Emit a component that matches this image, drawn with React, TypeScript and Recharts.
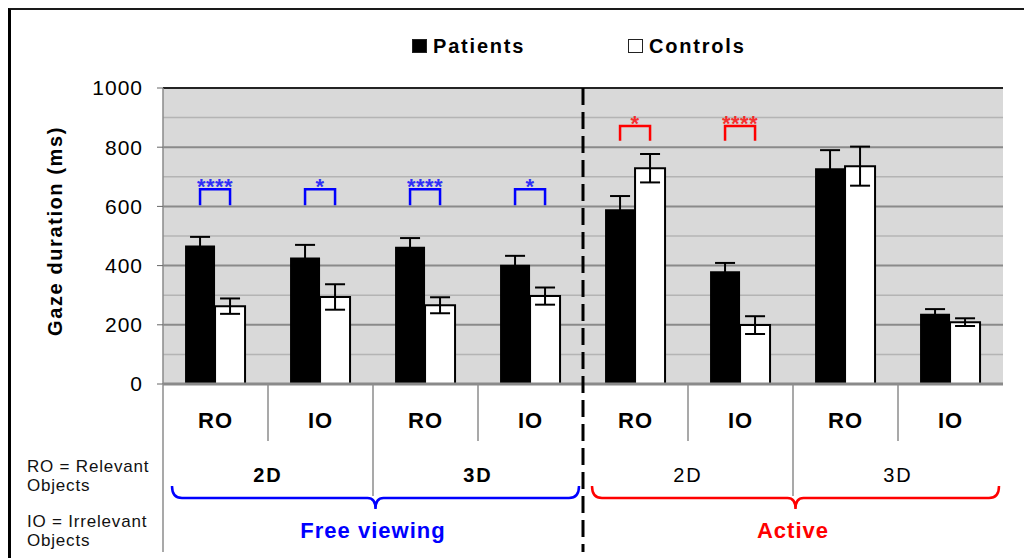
import React from "react";
import {
  BarChart,
  Bar,
  XAxis,
  YAxis,
  CartesianGrid,
  ErrorBar,
  LabelList,
  Legend,
  ReferenceLine,
} from "recharts";

// values (ms)
const objects = ["RO", "IO", "RO", "IO", "RO", "IO", "RO", "IO"];
const dims = ["2D", "2D", "3D", "3D", "2D", "2D", "3D", "3D"];
const conditions = [
  "Free viewing",
  "Free viewing",
  "Free viewing",
  "Free viewing",
  "Active",
  "Active",
  "Active",
  "Active",
];
const seriesNames = ["Patients", "Controls"];
const patients = [468, 427, 464, 403, 590, 381, 729, 237];
const patientsErr = [29, 43, 29, 30, 45, 28, 61, 16];
const controls = [263, 294, 266, 297, 729, 199, 736, 209];
const controlsErr = [26, 43, 27, 29, 48, 30, 66, 13];
const sigStars = ["****", "*", "****", "*", "*", "****", "", ""];
const sigTop: (number | null)[] = [658, 658, 658, 658, 872, 872, null, null];
const sigBase: (number | null)[] = [604, 604, 604, 604, 822, 822, null, null];
const yTicks = [0, 200, 400, 600, 800, 1000];
const yMinor = [100, 300, 500, 700, 900];
const notes = ["RO = Relevant", "Objects", "IO = Irrelevant", "Objects"];

const data = objects.map((o, i) => ({
  key: `${conditions[i]} ${dims[i]} ${o}`,
  patients: patients[i],
  patientsErr: patientsErr[i],
  controls: controls[i],
  controlsErr: controlsErr[i],
}));

const FONT = '"Liberation Sans", Arial, sans-serif';
const condColor: Record<string, string> = {
  "Free viewing": "#0000ff",
  Active: "#ff0000",
};
const N = objects.length;
const PLOT_TOP = 88;
const AXIS_Y = 384;
const SEP = "#8c8c8c";

function bracePath(x1: number, x2: number) {
  const cx = (x1 + x2) / 2;
  const yTop = 486;
  const yLine = 498;
  const yTip = 509;
  const r = 10;
  return `M${x1},${yTop} Q${x1},${yLine} ${x1 + r},${yLine} L${cx - 8},${yLine} Q${cx},${yLine} ${cx},${yTip} Q${cx},${yLine} ${cx + 8},${yLine} L${x2 - r},${yLine} Q${x2},${yLine} ${x2},${yTop}`;
}

function CategoryTick(props: any) {
  const { x, payload } = props;
  const i: number = payload?.index ?? props.index ?? 0;
  const half: number = payload?.offset > 0 ? payload.offset : 52.5;
  const left = x - half;
  const right = x + half;
  const parts: React.ReactNode[] = [];

  parts.push(
    <text key="obj" x={x} y={428} textAnchor="middle" fontSize={22} fontWeight="bold" letterSpacing={1} fill="#000">
      {objects[i]}
    </text>
  );

  if (i === 0) {
    parts.push(<line key="l0" x1={left} x2={left} y1={AXIS_Y} y2={552} stroke={SEP} strokeWidth={1.5} />);
    const ys = [472, 491, 527, 546];
    notes.forEach((t, k) =>
      parts.push(
        <text key={`n${k}`} x={27} y={ys[k]} fontSize={17} letterSpacing={0.8} fill="#111">
          {t}
        </text>
      )
    );
  }

  if (i < N - 1) {
    if (conditions[i] !== conditions[i + 1]) {
      parts.push(
        <line key="dash" x1={right} x2={right} y1={PLOT_TOP} y2={552} stroke="#000" strokeWidth={3} strokeDasharray="17 7" />
      );
    } else if (dims[i] !== dims[i + 1]) {
      parts.push(<line key="sd" x1={right} x2={right} y1={AXIS_Y} y2={496} stroke={SEP} strokeWidth={1.5} />);
    } else {
      parts.push(<line key="so" x1={right} x2={right} y1={AXIS_Y} y2={441} stroke={SEP} strokeWidth={1.5} />);
    }
  }

  const dimStart = i === 0 || dims[i] !== dims[i - 1] || conditions[i] !== conditions[i - 1];
  if (dimStart) {
    let n = 1;
    while (i + n < N && dims[i + n] === dims[i] && conditions[i + n] === conditions[i]) n++;
    const active = conditions[i] === "Active";
    parts.push(
      <text key="dim" x={left + n * half} y={482} textAnchor="middle" fontSize={20} fontWeight={active ? "normal" : "bold"} letterSpacing={2} fill="#000">
        {dims[i]}
      </text>
    );
  }

  const condStart = i === 0 || conditions[i] !== conditions[i - 1];
  if (condStart) {
    let n = 1;
    while (i + n < N && conditions[i + n] === conditions[i]) n++;
    const col = condColor[conditions[i]];
    const groupRight = left + 2 * n * half;
    parts.push(
      <path key="brace" d={bracePath(left + 9, groupRight - 4)} fill="none" stroke={col} strokeWidth={2.5} />
    );
    parts.push(
      <text key="cond" x={left + n * half} y={538} textAnchor="middle" fontSize={22} fontWeight="bold" letterSpacing={1} fill={col}>
        {conditions[i]}
      </text>
    );
  }

  return <g>{parts}</g>;
}

function SigLabel(props: any) {
  const index: number = props.index;
  const top = sigTop[index];
  const base = sigBase[index];
  if (top == null || base == null) return null;
  const vb = props.viewBox ?? props;
  const { x, y, width, height } = vb;
  const zero = y + height;
  const k = height / patients[index];
  const yTop = zero - top * k;
  const yBase = zero - base * k;
  const x1 = x + width / 2;
  const x2 = x + width * 1.5;
  const col = condColor[conditions[index]];
  return (
    <g>
      <path d={`M${x1},${yBase} L${x1},${yTop} L${x2},${yTop} L${x2},${yBase}`} fill="none" stroke={col} strokeWidth={2.5} />
      <text x={(x1 + x2) / 2} y={yTop + 5} textAnchor="middle" fontSize={22} fontWeight="bold" letterSpacing={0.5} fill={col} fillOpacity={0.8}>
        {sigStars[index]}
      </text>
    </g>
  );
}

function LegendContent(props: any) {
  const all = (props.payload ?? []).filter((p: any) => p.type !== "none");
  const items = seriesNames
    .map((n) => all.find((p: any) => p.value === n))
    .filter(Boolean);
  const xs = [412, 628];
  return (
    <svg width={1024} height={70} style={{ display: "block" }}>
      {items.map((it: any, i: number) => {
        const fill = it.payload?.fill ?? it.color;
        return (
          <g key={i}>
            <rect x={xs[i] + 0.5} y={39.5} width={14} height={13} fill={fill} stroke="#222" strokeWidth={1} />
            <text x={xs[i] + 21} y={53} fontSize={20} fontWeight="bold" letterSpacing={1.8} fill="#000">
              {it.value}
            </text>
          </g>
        );
      })}
    </svg>
  );
}

function YLabel(props: any) {
  const vb = props.viewBox ?? {};
  const cy = (vb.y ?? 88) + (vb.height ?? 295) / 2 - 5;
  return (
    <text x={62} y={cy} transform={`rotate(-90 62 ${cy})`} textAnchor="middle" fontSize={20} fontWeight="bold" letterSpacing={1.6} fill="#000">
      Gaze duration (ms)
    </text>
  );
}

export default function App() {
  return (
    <div
      style={{
        position: "absolute",
        left: 0,
        top: 0,
        width: 1024,
        height: 558,
        overflow: "hidden",
        background: "#fff",
        fontFamily: FONT,
      }}
    >
      <div
        style={{
          position: "absolute",
          left: 8,
          top: 8,
          width: 1100,
          height: 700,
          borderTop: "2px solid #1a1a1a",
          borderLeft: "3px solid #000",
        }}
      />
      <div style={{ position: "absolute", left: 0, top: 0 }}>
        <BarChart
          width={1024}
          height={558}
          data={data}
          margin={{ top: 88, right: 21, bottom: 144, left: 0 }}
          barCategoryGap="21%"
          barGap={0}
        >
          <CartesianGrid vertical={false} horizontalValues={yMinor} stroke="#b4b4b4" strokeWidth={1.5} fill="#d9d9d9" />
          <CartesianGrid vertical={false} stroke="#8a8a8a" strokeWidth={2} />
          <ReferenceLine y={1000} stroke="#000" strokeWidth={1.5} />
          <YAxis
            width={163}
            domain={[0, 1000]}
            ticks={yTicks}
            interval={0}
            tickSize={6}
            tickMargin={14}
            tick={{ fontSize: 21, fill: "#000", letterSpacing: 1 }}
            tickLine={{ stroke: "#666" }}
            axisLine={{ stroke: "#8a8a8a", strokeWidth: 1.5 }}
            label={{ value: "Gaze duration (ms)", content: YLabel }}
          />
          <XAxis
            dataKey="key"
            height={30}
            interval={0}
            tickLine={false}
            axisLine={{ stroke: "#8a8a8a", strokeWidth: 3 }}
            tick={CategoryTick}
          />
          <Legend
            verticalAlign="middle"
            align="center"
            layout="horizontal"
            wrapperStyle={{ position: "absolute", top: 0, left: 0, width: 1024, height: 70 }}
            content={LegendContent}
          />
          <Bar dataKey="patients" name="Patients" fill="#000" isAnimationActive={false}>
            <ErrorBar dataKey="patientsErr" direction="y" width={10} stroke="#000" strokeWidth={2} />
            <LabelList dataKey="patients" content={SigLabel} />
          </Bar>
          <Bar dataKey="controls" name="Controls" fill="#fff" stroke="#000" strokeWidth={2} isAnimationActive={false}>
            <ErrorBar dataKey="controlsErr" direction="y" width={10} stroke="#000" strokeWidth={2} />
          </Bar>
        </BarChart>
      </div>
    </div>
  );
}
